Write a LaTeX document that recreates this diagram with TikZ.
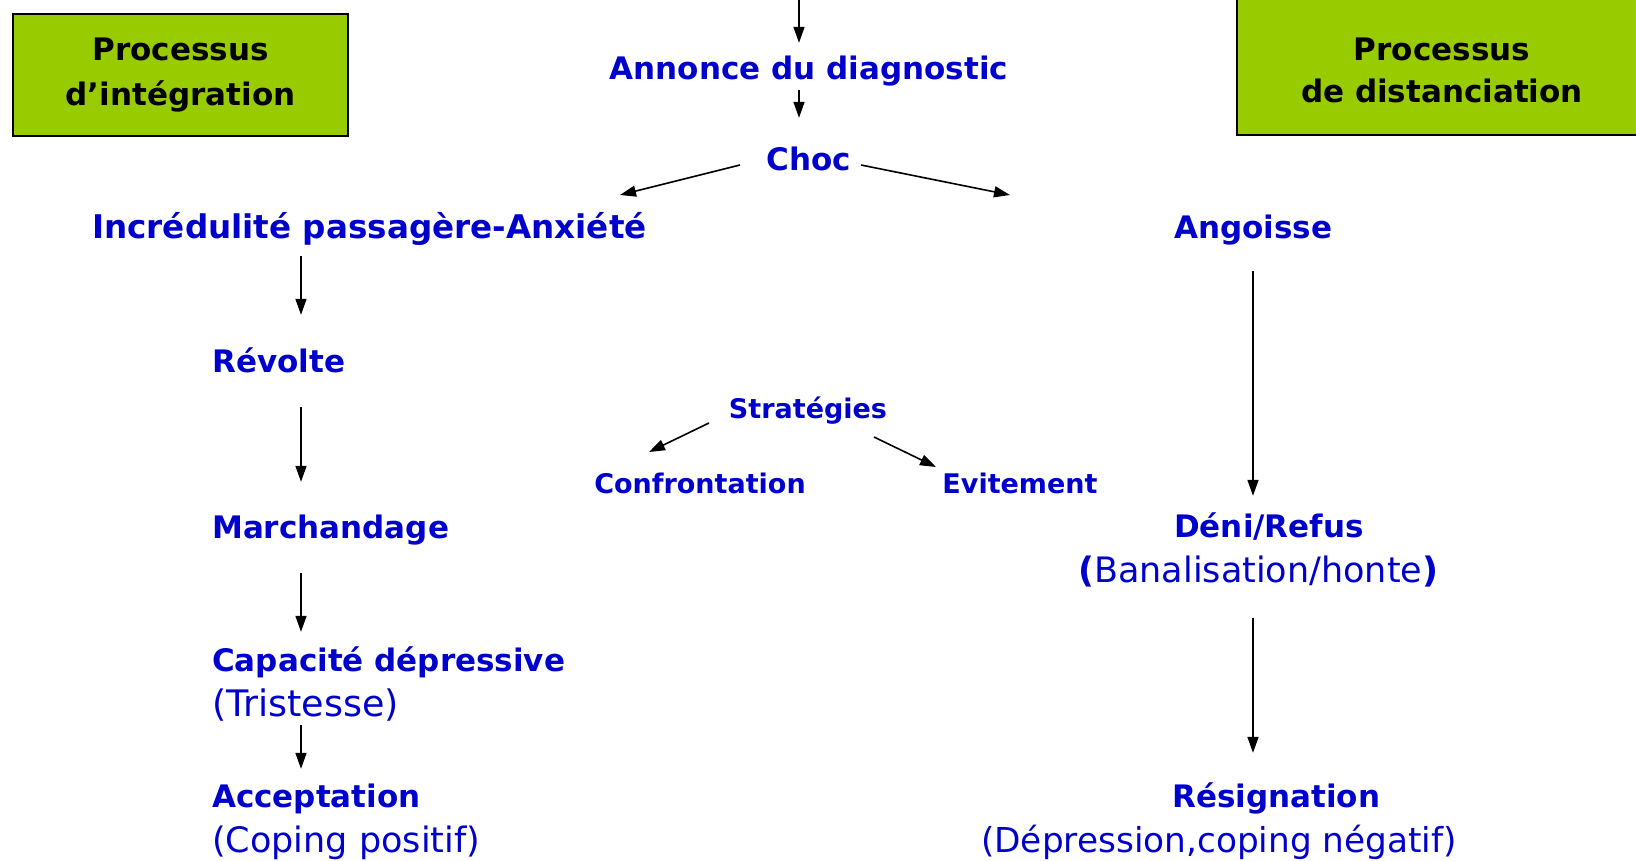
\documentclass[tikz,border=0pt]{standalone}
\usepackage{fontspec}
\setmainfont{DejaVu Sans}
\usetikzlibrary{arrows.meta,calc}
\definecolor{myblue}{RGB}{0,0,204}
\definecolor{mygreen}{RGB}{153,204,0}
\tikzset{
  lbl/.style={text=myblue, font=\bfseries\fontsize{31}{37}\selectfont, inner sep=0pt, text height=23pt, text depth=0pt},
  sml/.style={lbl, font=\bfseries\fontsize{27}{32}\selectfont, text height=20pt},
  sub/.style={text=myblue, font=\fontsize{35}{40}\selectfont, inner sep=0pt, text height=25pt, text depth=0pt},
  arr/.style={-{Triangle[length=16pt,width=11pt]}, line width=1.6pt},
  procbox/.style={draw=black, line width=1.5pt, fill=mygreen, font=\bfseries\fontsize{31}{45}\selectfont, align=center, inner sep=0pt},
  boxtext/.style={font=\bfseries\fontsize{31}{42}\selectfont, align=center, inner sep=0pt}
}
\begin{document}
\begin{tikzpicture}[x=1pt,y=-1pt]
\useasboundingbox (0,0) rectangle (1636,860);
\clip (0,0) rectangle (1636,860);

\node[procbox, minimum width=335pt, minimum height=122pt] (lbox) at (180.5,75) {Processus\\d’intégration};
\node[procbox, minimum width=410pt, minimum height=150pt] (rbox) at (1442,60) {};
\node[boxtext] (rtext) at (1442,70) {Processus\\de distanciation};

\node[lbl, anchor=base] (annonce) at (809,79) {Annonce du diagnostic};
\node[lbl, anchor=base] (choc) at (809,170) {Choc};
\node[lbl, anchor=base west, font=\bfseries\fontsize{32.6}{37}\selectfont] (incr) at (92,238) {Incrédulité passagère-Anxiété};
\node[lbl, anchor=base west] (ang) at (1174,238) {Angoisse};
\node[lbl, anchor=base west] (rev) at (212,372) {Révolte};
\node[lbl, anchor=base west] (march) at (212,538) {Marchandage};
\node[lbl, anchor=base west] (capa) at (212,671) {Capacité dépressive};
\node[sub, anchor=base west, font=\fontsize{36.5}{40}\selectfont] (trist) at (212,716) {(Tristesse)};
\node[lbl, anchor=base west] (accept) at (212,807) {Acceptation};
\node[sub, anchor=base west] (coping) at (212,852) {(Coping positif)};
\node[sml, anchor=base] (strat) at (808,418) {Stratégies};
\node[sml, anchor=base] (conf) at (700,493) {Confrontation};
\node[sml, anchor=base] (evit) at (1020,493) {Evitement};
\node[lbl, anchor=base west] (deni) at (1174,537) {Déni/Refus};
\node[sub, anchor=base west] (banal) at (1078,582) {{\bfseries(}Banalisation/honte{\bfseries)}};
\node[lbl, anchor=base west] (resig) at (1172,807) {Résignation};
\node[sub, anchor=base west, font=\fontsize{34.3}{40}\selectfont] (depr) at (981,852) {(Dépression,coping négatif)};

\coordinate (colL) at (301,0);
\coordinate (colR) at (1253,0);
\coordinate (colM) at (799,0);
\coordinate (topin) at (799,-2);

\draw[arr, shorten >=13pt] (topin) -- (annonce.north -| colM);
\draw[arr, shorten <=11pt, shorten >=29pt] (annonce.base -| colM) -- (choc.north -| colM);
\draw[arr] ($(choc.base)+(-69,-5)$) -- ($(incr.base west)+(528,-43)$);
\draw[arr] ($(choc.base)+(52,-5)$) -- ($(ang.base west)+(-164,-43)$);
\draw[arr, shorten <=18pt, shorten >=34pt] (incr.base -| colL) -- (rev.north -| colL);
\draw[arr, shorten <=35pt, shorten >=33pt] (rev.base -| colL) -- (march.north -| colL);
\draw[arr, shorten <=35pt, shorten >=16pt] (march.base -| colL) -- (capa.north -| colL);
\draw[arr, shorten <=9pt, shorten >=15pt] (trist.base -| colL) -- (accept.north -| colL);
\draw[arr, shorten <=33pt, shorten >=18pt] (ang.base -| colR) -- (deni.north -| colR);
\draw[arr, shorten <=36pt, shorten >=31pt] (banal.base -| colR) -- (resig.north -| colR);
\draw[arr] ($(strat.base)+(-99,5)$) -- ($(conf.base)+(-51,-41)$);
\draw[arr] ($(strat.base)+(66,19)$) -- ($(evit.base)+(-84,-26)$);
\end{tikzpicture}
\end{document}
